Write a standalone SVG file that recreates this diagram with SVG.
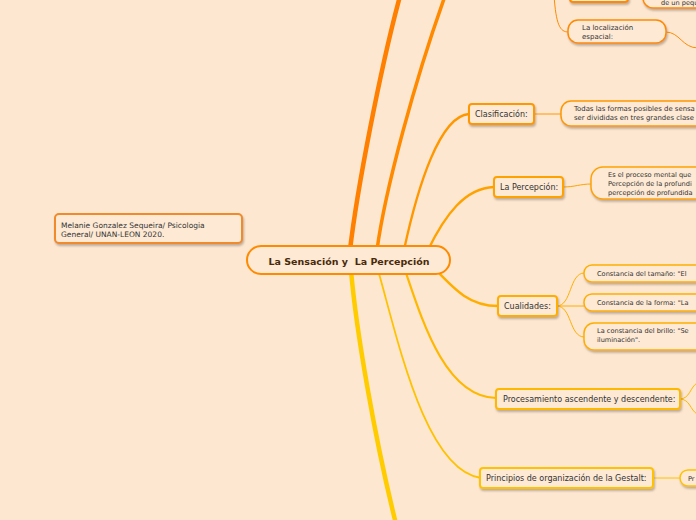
<svg xmlns="http://www.w3.org/2000/svg" width="696" height="520" viewBox="0 0 696 520">
<defs>
<filter id="sh" x="-10%" y="-30%" width="120%" height="170%">
<feDropShadow dx="1" dy="2" stdDeviation="0.8" flood-color="#8a7a6a" flood-opacity="0.55"/>
</filter>
<style>
.bg{fill:#FDE7D0}
.n{fill:#FDE9D4;stroke-width:2;filter:url(#sh)}
.p{fill:#FDE9D4;stroke-width:1.5;filter:url(#sh)}
.t{font-family:"DejaVu Sans","Verdana",sans-serif;font-size:8px;fill:#333}
.s{font-family:"DejaVu Sans","Verdana",sans-serif;font-size:6.6px;fill:#333}
.c{fill:none;stroke-linecap:round}
</style>
</defs>
<rect class="bg" x="0" y="0" width="696" height="520"/>

<g id="connectors">
<path class="c" d="M350,250 C357,190 380,70 400,-4" stroke="#FF7F00" stroke-width="4.5"/>
<path class="c" d="M377,250 C385,190 415,80 445,-4" stroke="#FF8A00" stroke-width="3.5"/>
<path class="c" d="M404,250 C418,185 440,116 469,114" stroke="#FF9800" stroke-width="2.4"/>
<path class="c" d="M428,250 C445,215 465,188 494,187" stroke="#FFA200" stroke-width="2.4"/>
<path class="c" d="M436,270 C455,290 470,306 498,306" stroke="#FFAE00" stroke-width="2.4"/>
<path class="c" d="M405,270 C422,320 445,397 496,398" stroke="#FFB800" stroke-width="2.2"/>
<path class="c" d="M378,270 C398,340 425,470 481,478" stroke="#FFC200" stroke-width="1.8"/>
<path class="c" d="M351,270 C356,330 375,440 396,524" stroke="#FFCC00" stroke-width="4.5"/>
<path class="c" d="M534,114 L561,114" stroke="#FF9800" stroke-width="1"/>
<path class="c" d="M563,187 C575,187 580,184 591,184" stroke="#FFA200" stroke-width="1"/>
<path class="c" d="M557,306 C572,306 569,273 584,273" stroke="#FFAE00" stroke-width="1"/>
<path class="c" d="M557,306 L584,306" stroke="#FFAE00" stroke-width="1"/>
<path class="c" d="M557,306 C572,306 569,337 584,337" stroke="#FFAE00" stroke-width="1"/>
<path class="c" d="M680,399 C690,399 690,387 697,383" stroke="#FFB800" stroke-width="1"/>
<path class="c" d="M680,399 C690,399 690,410 697,414" stroke="#FFB800" stroke-width="1"/>
<path class="c" d="M653,478 L680,478" stroke="#FFC200" stroke-width="1"/>
<path class="c" d="M554,-5 C556,25 560,32 568,32" stroke="#FF8A00" stroke-width="1"/>
<path class="c" d="M666,32 C680,32 682,48 698,48" stroke="#FF8A00" stroke-width="1"/>
</g>

<g id="central">
<rect x="247" y="246" width="203" height="28" rx="14" fill="#FDE9D4" stroke="#FF8A00" stroke-width="2"/>
<text x="349" y="264.5" text-anchor="middle" xml:space="preserve" font-family="DejaVu Sans, Verdana, sans-serif" font-size="9.5" font-weight="bold" fill="#4A2A0A">La Sensación y  La Percepción</text>
</g>

<g id="autor">
<rect class="n" x="55" y="214" width="187" height="29" rx="4" stroke="#F08A2A" stroke-width="1.5"/>
<text class="t" x="61" y="228" style="font-size:7.5px">Melanie Gonzalez Sequeira/ Psicologia</text>
<text class="t" x="61" y="237" style="font-size:7.5px">General/ UNAN-LEON 2020.</text>
</g>

<g id="top-node">
<rect class="n" x="570" y="-20" width="58" height="22" rx="3" stroke="#FF8A00"/>
</g>

<g id="de-un-pequeno">
<rect class="p" x="643" y="-20" width="70" height="28" rx="10" stroke="#FF8A00"/>
<text class="s" x="661" y="4.5">de un peque</text>
</g>

<g id="localizacion">
<rect class="p" x="568" y="20" width="98" height="23" rx="10" stroke="#FF8A00"/>
<text class="s" x="582" y="30" style="font-size:7px">La localización</text>
<text class="s" x="582" y="39" style="font-size:7px">espacial:</text>
</g>

<g id="clasificacion">
<rect class="n" x="469" y="104" width="65" height="20" rx="3" stroke="#FF9800"/>
<text class="t" x="475" y="117">Clasificación:</text>
</g>
<g id="clasificacion-desc">
<rect class="p" x="561" y="101" width="150" height="25" rx="10" stroke="#FF9800"/>
<text class="s" x="574" y="111" style="font-size:6.9px">Todas las formas posibles de sensa</text>
<text class="s" x="574" y="120" style="font-size:6.9px">ser divididas en tres grandes clase</text>
</g>

<g id="percepcion">
<rect class="n" x="494" y="177" width="69" height="20" rx="3" stroke="#FFA200"/>
<text class="t" x="500" y="190">La Percepción:</text>
</g>
<g id="percepcion-desc">
<rect class="p" x="591" y="167" width="120" height="32" rx="12" stroke="#FFA200"/>
<text class="s" x="608" y="177">Es el proceso mental que</text>
<text class="s" x="608" y="186">Percepción de la profundi</text>
<text class="s" x="608" y="195">percepción de profundida</text>
</g>

<g id="cualidades">
<rect class="n" x="498" y="296" width="59" height="20" rx="3" stroke="#FFAE00"/>
<text class="t" x="504" y="309">Cualidades:</text>
</g>
<g id="constancia-tamano">
<rect class="p" x="584" y="265" width="125" height="17" rx="8" stroke="#FFAE00"/>
<text class="s" x="597" y="275.5">Constancia del tamaño: "El</text>
</g>
<g id="constancia-forma">
<rect class="p" x="584" y="294" width="125" height="17" rx="8" stroke="#FFAE00"/>
<text class="s" x="597" y="304.5">Constancia de la forma: "La</text>
</g>
<g id="constancia-brillo">
<rect class="p" x="584" y="323" width="125" height="27" rx="10" stroke="#FFAE00"/>
<text class="s" x="597" y="333">La constancia del brillo: "Se</text>
<text class="s" x="597" y="342">iluminación".</text>
</g>

<g id="procesamiento">
<rect class="n" x="496" y="389" width="184" height="20" rx="3" stroke="#FFB800"/>
<text class="t" x="503" y="402">Procesamiento ascendente y descendente:</text>
</g>

<g id="gestalt">
<rect class="n" x="480" y="468" width="173" height="20" rx="3" stroke="#FFC200"/>
<text class="t" x="486" y="481">Principios de organización de la Gestalt:</text>
</g>
<g id="gestalt-child">
<rect class="p" x="680" y="470" width="40" height="16" rx="8" stroke="#FFC200"/>
<text class="s" x="688" y="480.5">Pr</text>
</g>
</svg>
